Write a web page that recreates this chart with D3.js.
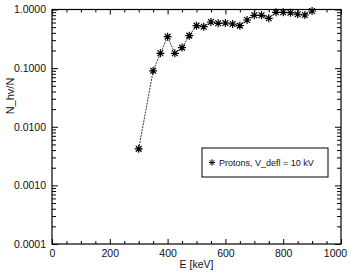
<!DOCTYPE html>
<html>
<head>
<meta charset="utf-8">
<script src="https://cdn.jsdelivr.net/npm/d3@7"></script>
<style>
  body { margin: 0; background: #fff; }
  svg { font-family: "Liberation Sans", Arial, sans-serif; }
  .axis path { stroke: #000; }
  .axis line { stroke: #000; }
  .axis text { font-size: 10.5px; fill: #111; }
</style>
</head>
<body>
<script>
// energies in keV
var energies = [300, 350, 375, 400, 425, 450, 475, 500, 525, 550, 575, 600, 625, 650,
                675, 700, 725, 750, 775, 800, 825, 850, 875, 900];
// fraction N_hv/N
var ratios = [0.0042, 0.090, 0.179, 0.344, 0.179, 0.224, 0.358, 0.530, 0.509, 0.612,
              0.582, 0.589, 0.566, 0.530, 0.662, 0.797, 0.797, 0.708, 0.896, 0.896,
              0.882, 0.829, 0.806, 0.943];
var xMajor = [0, 200, 400, 600, 800, 1000];
var yMajor = [0.0001, 0.001, 0.01, 0.1, 1];
var legendLabel = "Protons,  V_defl = 10 kV";

var width = 351, height = 274;
var pLeft = 52, pRight = 341, pTop = 9.5, pBottom = 244;

var svg = d3.select("body").append("svg")
    .attr("width", width)
    .attr("height", height);

var x = d3.scaleLinear().domain([0, 1000]).range([pLeft, pRight]);
var y = d3.scaleLog().domain([0.0001, 1]).range([pBottom, pTop]);

// minor tick values
var xMinor = d3.range(0, 1001, 50).filter(function(d){ return d % 200 != 0; });
var yMinor = [];
yMajor.slice(0, -1).forEach(function(p){
    for (var k = 2; k <= 9; k++) yMinor.push(p * k);
});

// frame
svg.append("rect")
    .attr("x", pLeft).attr("y", pTop)
    .attr("width", pRight - pLeft).attr("height", pBottom - pTop)
    .attr("fill", "none").attr("stroke", "#000").attr("stroke-width", 1.2);

function tickAxis(axis, tr, vals, size, labels){
    var g = svg.append("g").attr("class", "axis").attr("transform", tr)
        .call(axis.tickValues(vals).tickSizeInner(size).tickSizeOuter(0));
    g.select(".domain").remove();
    if (!labels) g.selectAll("text").remove();
    return g;
}

// bottom
tickAxis(d3.axisBottom(x), "translate(0," + pBottom + ")", xMinor, -3, false);
var xg = tickAxis(d3.axisBottom(x).tickPadding(6).tickFormat(d3.format("d")), "translate(0," + pBottom + ")", xMajor, -5, true);
xg.selectAll("text").filter(function(d){ return d == 1000; }).attr("dx", -6);
// top
tickAxis(d3.axisTop(x), "translate(0," + pTop + ")", xMinor, -3, false);
tickAxis(d3.axisTop(x), "translate(0," + pTop + ")", xMajor, -5, false);
// left
tickAxis(d3.axisLeft(y), "translate(" + pLeft + ",0)", yMinor, -4, false);
tickAxis(d3.axisLeft(y).tickPadding(6).tickFormat(d3.format(".4f")), "translate(" + pLeft + ",0)", yMajor, -6, true);
// right
tickAxis(d3.axisRight(y), "translate(" + pRight + ",0)", yMinor, -4, false);
tickAxis(d3.axisRight(y), "translate(" + pRight + ",0)", yMajor, -6, false);

// axis titles
svg.append("text")
    .attr("x", (pLeft + pRight) / 2).attr("y", 268)
    .attr("text-anchor", "middle")
    .style("font-size", "10.5px")
    .attr("fill", "#111")
    .text("E [keV]");
svg.append("text")
    .attr("transform", "translate(14,96) rotate(-90)")
    .attr("text-anchor", "middle")
    .style("font-size", "11px")
    .attr("fill", "#111")
    .text("N_hv/N");

// data line
var line = d3.line()
    .x(function(d, i){ return x(energies[i]); })
    .y(function(d){ return y(d); });
svg.append("path")
    .datum(ratios)
    .attr("d", line)
    .attr("fill", "none")
    .attr("stroke", "#000")
    .attr("stroke-width", 0.8)
    .attr("stroke-dasharray", "2,1");

// asterisk markers
var r = 4, q = r * 0.72;
var star = "M" + (-r) + ",0L" + r + ",0M0," + (-r) + "L0," + r +
           "M" + (-q) + "," + (-q) + "L" + q + "," + q +
           "M" + (-q) + "," + q + "L" + q + "," + (-q);
svg.selectAll(".pt")
    .data(ratios)
    .enter()
    .append("path")
    .attr("class", "pt")
    .attr("transform", function(d, i){ return "translate(" + x(energies[i]) + "," + y(d) + ")"; })
    .attr("d", star)
    .attr("stroke", "#000")
    .attr("stroke-width", 1.2)
    .attr("fill", "none");

// legend
var lg = svg.append("g");
lg.append("rect")
    .attr("x", 202).attr("y", 148).attr("width", 126).attr("height", 29)
    .attr("fill", "#fff").attr("stroke", "#000").attr("stroke-width", 1);
lg.append("path")
    .attr("transform", "translate(212,162.5) scale(0.8)")
    .attr("d", star)
    .attr("stroke", "#000").attr("stroke-width", 1.2).attr("fill", "none");
lg.append("text")
    .attr("x", 219).attr("y", 165.5)
    .style("font-size", "9px")
    .attr("fill", "#111")
    .text(legendLabel);
</script>
</body>
</html>
